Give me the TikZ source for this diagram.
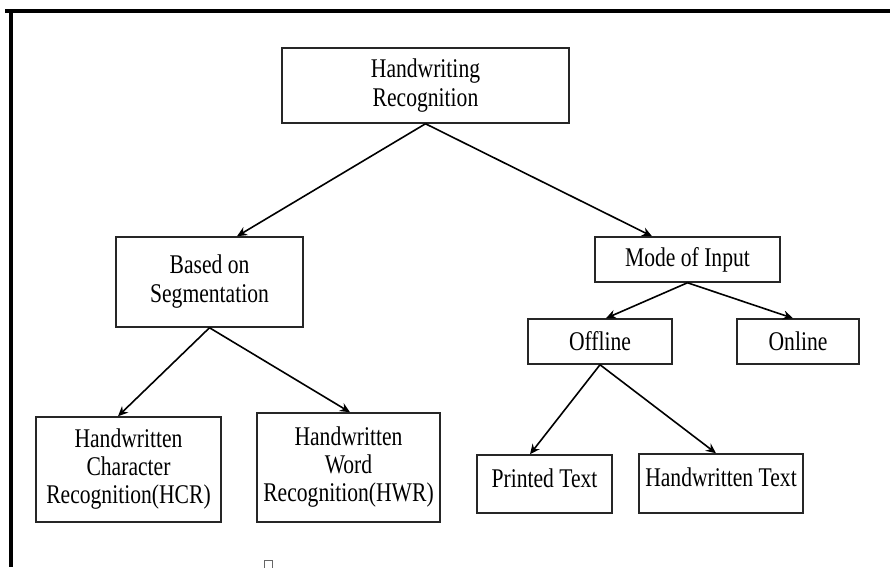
\documentclass[tikz,border=0pt]{standalone}
\usepackage{fontspec}
\setmainfont{Liberation Serif}[FakeStretch=0.8]
\usetikzlibrary{arrows.meta}
\begin{document}
\begin{tikzpicture}[x=1pt,y=-1pt,
  box/.style={draw=black!85, line width=1.5pt, inner sep=0pt, align=center,
    font=\fontsize{27}{29}\selectfont},
  arr/.style={line width=1.6pt, -{Stealth[length=10pt,width=9pt]}},
  frame/.style={line width=3.5pt, black}]
\useasboundingbox (0,0) rectangle (890,567);
% frame
\draw[frame] (5,11) -- (890,11);
\draw[frame] (11,11) -- (11,567);
% nodes
\node[box, minimum width=287, minimum height=75] (hr) at (425.5,85.5) {Handwriting\\Recognition};
\node[box, minimum width=187, minimum height=90] (bos) at (209.5,282) {Based on\\Segmentation};
\node[box, minimum width=185, minimum height=45] (moi) at (687.5,259.5) {Mode of Input};
\node[box, minimum width=144, minimum height=45] (off) at (600,341.5) {Offline};
\node[box, minimum width=122, minimum height=45] (on) at (798,341.5) {Online};
\node[box, minimum width=185, minimum height=105, font=\fontsize{27}{28}\selectfont] (hcr) at (128.5,469.5) {Handwritten\\Character\\Recognition(HCR)};
\node[box, minimum width=183, minimum height=109, font=\fontsize{27}{28}\selectfont] (hwr) at (348.5,467.5) {Handwritten\\Word\\Recognition(HWR)};
\node[box, minimum width=135, minimum height=58, text depth=12pt] (pt) at (544.5,484) {Printed Text};
\node[box, minimum width=164, minimum height=59, text depth=12pt] (ht) at (721,483.5) {Handwritten Text};
% connectors
\draw[arr] (hr.south) -- ([xshift=27.5]bos.north);
\draw[arr] (hr.south) -- ([xshift=-35.5]moi.north);
\draw[arr] (bos.south) -- ([xshift=-10.5]hcr.north);
\draw[arr] (bos.south) -- ([xshift=1.5]hwr.north);
\draw[arr] (moi.south) -- ([xshift=6]off.north);
\draw[arr] (moi.south) -- ([xshift=-5]on.north);
\draw[arr] (off.south) -- ([xshift=-14.5]pt.north);
\draw[arr] (off.south) -- ([xshift=-5]ht.north);
% small mark at bottom
\draw[black!60, line width=0.6pt] (264,560) rectangle (272,568);
\end{tikzpicture}
\end{document}
